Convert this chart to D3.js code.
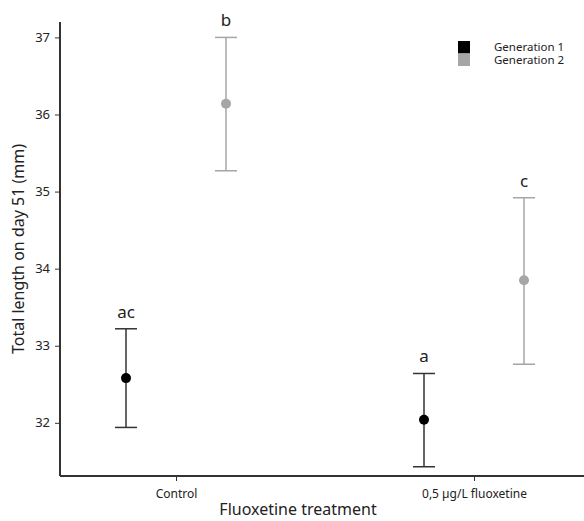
<!DOCTYPE html>
<html>
<head>
<meta charset="utf-8">
<script src="https://cdn.jsdelivr.net/npm/d3@7"></script>
<style>
  body { margin: 0; background: #fff; }
  text { font-family: "Noto Sans", sans-serif; fill: #222; }
</style>
</head>
<body>
<div id="chart"></div>
<script>
// Data
const treatments = ["Control", "0,5 µg/L fluoxetine"];
const generations = ["Generation 1", "Generation 2"];
const genColors = ["#000000", "#a6a6a6"];
// mean, upper, lower per treatment, one array per generation
const gen1Mean = [32.58, 32.04];
const gen1Upper = [33.22, 32.64];
const gen1Lower = [31.94, 31.43];
const gen2Mean = [36.14, 33.85];
const gen2Upper = [37.00, 34.92];
const gen2Lower = [35.27, 32.76];
const letters1 = ["ac", "a"];
const letters2 = ["b", "c"];
const yTicks = [32, 33, 34, 35, 36, 37];

const width = 584, height = 521;
const margin = { top: 22, right: 0, bottom: 45, left: 60 };
const innerWidth = width - margin.left - margin.right;
const innerHeight = height - margin.top - margin.bottom;

const rows = [];
treatments.forEach((t, i) => {
  rows.push({ t: t, g: generations[0], mean: gen1Mean[i], hi: gen1Upper[i], lo: gen1Lower[i], letter: letters1[i], color: genColors[0] });
  rows.push({ t: t, g: generations[1], mean: gen2Mean[i], hi: gen2Upper[i], lo: gen2Lower[i], letter: letters2[i], color: genColors[1] });
});

const svg = d3.select("#chart").append("svg")
  .attr("width", width)
  .attr("height", height);

const g = svg.append("g")
  .attr("transform", "translate(" + margin.left + "," + margin.top + ")");

// Category positions: treatment centre, then +/- offset for generation
const xScale = d3.scalePoint()
  .domain(treatments)
  .range([116, 414]);
const xSub = d3.scalePoint()
  .domain(generations)
  .range([-50, 50]);

const yScale = d3.scaleLinear()
  .domain([31.31, 37.2])
  .range([innerHeight, 0]);

// Axes
const xAxis = g.append("g")
  .attr("transform", "translate(0," + innerHeight + ")")
  .call(d3.axisBottom(xScale).tickSize(5).tickPadding(8));
xAxis.select(".domain").attr("d", "M0,0H" + innerWidth);

const yAxis = g.append("g")
  .call(d3.axisLeft(yScale).tickValues(yTicks).tickFormat(d3.format("d")).tickSize(5).tickPadding(5));
yAxis.select(".domain").attr("d", "M0,0V" + innerHeight);

[xAxis, yAxis].forEach(a => {
  a.select(".domain").attr("stroke", "#333").attr("stroke-width", 2);
  a.selectAll(".tick line").attr("stroke", "#333");
  a.selectAll(".tick text").attr("fill", "#222");
});
xAxis.selectAll(".tick text").style("font-size", "12px");
yAxis.selectAll(".tick text").style("font-size", "13px");

// Error bars
const capW = 11;
const stroke = d => d.color === "#000000" ? "#333" : d.color;
const bars = g.selectAll(".err")
  .data(rows)
  .enter().append("g")
  .attr("class", "err")
  .attr("transform", d => "translate(" + (xScale(d.t) + xSub(d.g)) + ",0)");

bars.append("line")
  .attr("y1", d => yScale(d.hi))
  .attr("y2", d => yScale(d.lo))
  .attr("stroke", stroke)
  .attr("stroke-width", 1.5);

bars.append("line")
  .attr("x1", -capW).attr("x2", capW)
  .attr("y1", d => yScale(d.hi)).attr("y2", d => yScale(d.hi))
  .attr("stroke", stroke)
  .attr("stroke-width", 1.5);

bars.append("line")
  .attr("x1", -capW).attr("x2", capW)
  .attr("y1", d => yScale(d.lo)).attr("y2", d => yScale(d.lo))
  .attr("stroke", stroke)
  .attr("stroke-width", 1.5);

bars.append("circle")
  .attr("cy", d => yScale(d.mean))
  .attr("r", 5)
  .attr("fill", d => d.color);

// Significance letters
bars.append("text")
  .attr("y", d => yScale(d.hi) - 11)
  .attr("text-anchor", "middle")
  .style("font-size", "17px")
  .text(d => d.letter);

// Axis titles
svg.append("text")
  .attr("x", 298)
  .attr("y", 515)
  .attr("text-anchor", "middle")
  .style("font-size", "16px")
  .text("Fluoxetine treatment");

svg.append("text")
  .attr("transform", "translate(24," + (margin.top + innerHeight / 2) + ") rotate(-90)")
  .attr("text-anchor", "middle")
  .style("font-size", "16px")
  .text("Total length on day 51 (mm)");

// Legend
const legend = svg.append("g")
  .attr("transform", "translate(458,41)");
generations.forEach((gen, i) => {
  legend.append("rect")
    .attr("x", 0).attr("y", i * 12.5)
    .attr("width", 12).attr("height", 12.5)
    .attr("fill", genColors[i]);
  legend.append("text")
    .attr("x", 36).attr("y", i * 12.5 + 10)
    .style("font-size", "11.5px")
    .text(gen);
});
</script>
</body>
</html>
